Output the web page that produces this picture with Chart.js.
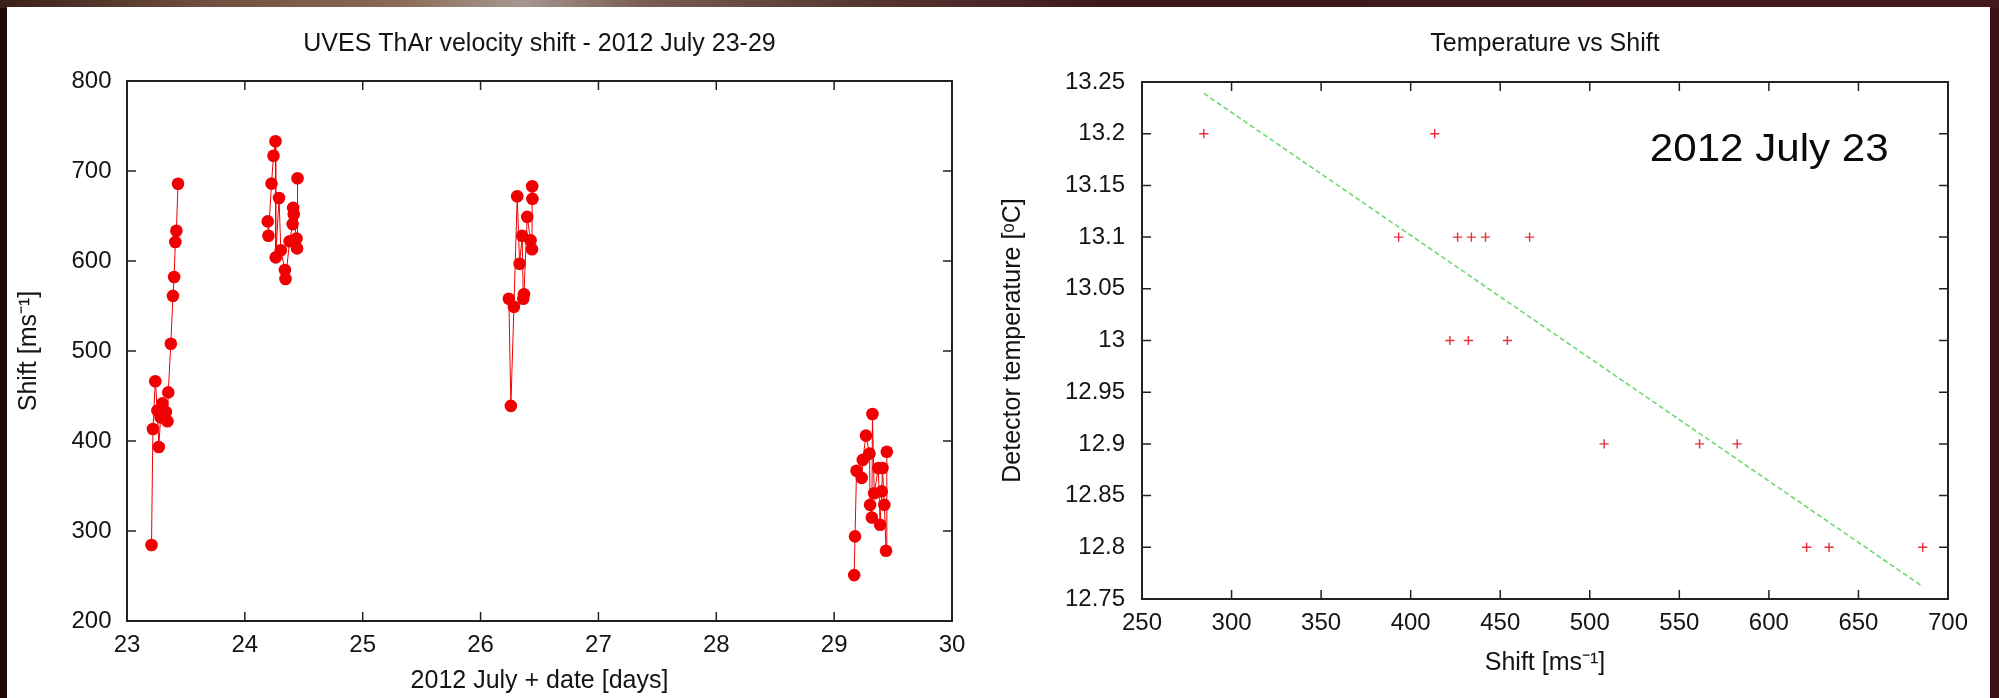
<!DOCTYPE html>
<html>
<head>
<meta charset="utf-8">
<title>UVES ThAr velocity shift</title>
<script src="https://cdn.jsdelivr.net/npm/chart.js@4"></script>
<style>
  html, body { margin: 0; padding: 0; }
  body {
    width: 1999px; height: 698px; position: relative; overflow: hidden;
    background: linear-gradient(90deg, #1f0b0a 0%, #2c0f0e 40%, #3a1315 100%);
  }
  #band {
    position: absolute; left: 0; top: 0; width: 1999px; height: 8px;
    background: linear-gradient(90deg, #3a2019 0%, #6e4e3e 10%, #8a6a56 20%, #a69890 26%, #7a5e54 32%, #5a3a34 42%, #3e1a1a 55%, #451a1c 100%);
  }
  #sheet { position: absolute; left: 7px; top: 7px; width: 1983px; height: 691px; background: #fff; }
  canvas { position: absolute; top: 0; }
  #shiftChart { left: 0; }
  #tempChart { left: 996px; }
</style>
</head>
<body>
<div id="band"></div>
<div id="sheet"></div>
<canvas id="shiftChart" width="996" height="698"></canvas>
<canvas id="tempChart" width="1003" height="698"></canvas>

<script>
// Night of July 23: time, shift and detector temperature for each exposure
const night23Days  = [23.208, 23.220, 23.240, 23.258, 23.270, 23.285, 23.300, 23.330, 23.343, 23.350, 23.372, 23.390, 23.400, 23.410, 23.419, 23.433];
const night23Shift = [284.5, 413.4, 466.4, 433.9, 393.3, 426.2, 441.8, 432.2, 421.9, 454.0, 508.0, 561.3, 582.3, 621.1, 633.6, 685.9];
const night23Temp  = [13.2, 13.2, 13.1, 13.1, 13.1, 13.1, 13.1, 13.0, 13.0, 13.0, 12.9, 12.9, 12.9, 12.8, 12.8, 12.8];

const night24Days  = [24.194, 24.200, 24.226, 24.243, 24.260, 24.262, 24.290, 24.305, 24.340, 24.345, 24.380, 24.405, 24.410, 24.415, 24.438, 24.443, 24.447];
const night24Shift = [644, 628, 686, 717, 733, 604, 670, 612, 590, 580, 622, 641, 659, 652, 625, 614, 692];

const night26Days  = [26.240, 26.257, 26.283, 26.311, 26.331, 26.353, 26.362, 26.368, 26.396, 26.424, 26.436, 26.438, 26.440];
const night26Shift = [558, 439, 549, 672, 597, 628, 558, 563, 649, 623, 613, 683, 669];

const night29Days  = [29.170, 29.177, 29.190, 29.234, 29.243, 29.270, 29.300, 29.305, 29.320, 29.325, 29.340, 29.375, 29.390, 29.404, 29.410, 29.426, 29.440, 29.447];
const night29Shift = [251, 294, 367, 359, 379, 406, 386, 329, 315, 430, 342, 370, 307, 344, 370, 329, 278, 388];

// linear fit of temperature against shift (end points)
const fitShift = [284.5, 685.9];
const fitTemp  = [13.239, 12.762];

const RED = 'rgb(240,0,0)';
const INK = '#141414';
const FONT = "'Liberation Sans', Arial, Helvetica, sans-serif";

Chart.defaults.font.family = FONT;
Chart.defaults.color = INK;
Chart.defaults.animation = false;
Chart.defaults.plugins.legend.display = false;
Chart.defaults.plugins.tooltip.enabled = false;

const toPoints = (xs, ys) => xs.map((x, i) => ({ x: x, y: ys[i] }));

// gnuplot style box: full border with inward ticks on all four sides
const frameTicks = {
  id: 'frameTicks',
  afterDraw(chart) {
    const { ctx, chartArea: a, scales: { x, y } } = chart;
    const len = 9;
    ctx.save();
    ctx.strokeStyle = '#222';
    ctx.lineWidth = 1.5;
    ctx.beginPath();
    x.ticks.forEach(t => {
      const px = x.getPixelForValue(t.value);
      ctx.moveTo(px, a.bottom); ctx.lineTo(px, a.bottom - len);
      ctx.moveTo(px, a.top); ctx.lineTo(px, a.top + len);
    });
    y.ticks.forEach(t => {
      const py = y.getPixelForValue(t.value);
      ctx.moveTo(a.left, py); ctx.lineTo(a.left + len, py);
      ctx.moveTo(a.right, py); ctx.lineTo(a.right - len, py);
    });
    ctx.stroke();
    ctx.lineWidth = 2;
    ctx.strokeRect(a.left, a.top, a.right - a.left, a.bottom - a.top);
    ctx.restore();
  }
};

// the date label written inside the temperature plot
const dateNote = {
  id: 'dateNote',
  afterDraw(chart) {
    const { ctx, scales: { x, y } } = chart;
    ctx.save();
    ctx.font = '39px ' + FONT;
    ctx.fillStyle = '#0a0a0a';
    ctx.textBaseline = 'middle';
    ctx.translate(x.getPixelForValue(533.5), y.getPixelForValue(13.184));
    ctx.scale(1.08, 1);
    ctx.fillText('2012 July 23', 0, 0);
    ctx.restore();
  }
};

const tickFont = { size: 24 };
const titleFont = { size: 25, weight: 'normal' };

function nightSet(days, shift) {
  return {
    data: toPoints(days, shift),
    showLine: true,
    borderColor: RED,
    borderWidth: 1,
    pointRadius: 6.3,
    pointBackgroundColor: RED,
    pointBorderWidth: 0
  };
}

new Chart(document.getElementById('shiftChart'), {
  type: 'scatter',
  data: {
    datasets: [
      nightSet(night23Days, night23Shift),
      nightSet(night24Days, night24Shift),
      nightSet(night26Days, night26Shift),
      nightSet(night29Days, night29Shift)
    ]
  },
  options: {
    responsive: false,
    layout: { padding: { left: 0, right: 44, top: 0, bottom: 0 } },
    plugins: {
      title: {
        display: true,
        text: 'UVES ThAr velocity shift - 2012 July 23-29',
        fullSize: false,
        font: titleFont,
        color: INK,
        padding: { top: 29.5, bottom: 21.5 }
      }
    },
    scales: {
      x: {
        type: 'linear', min: 23, max: 30,
        afterFit: s => { s.height = 77; },
        ticks: { stepSize: 1, padding: 10, font: tickFont, maxRotation: 0 },
        grid: { display: false, drawTicks: false },
        border: { display: false },
        title: { display: true, text: '2012 July + date [days]', font: titleFont, padding: { top: 0, bottom: 2 } }
      },
      y: {
        type: 'linear', min: 200, max: 800,
        afterFit: s => { s.width = 127; },
        ticks: { stepSize: 100, padding: 15.5, font: tickFont },
        grid: { display: false, drawTicks: false },
        border: { display: false },
        title: { display: true, text: 'Shift [ms\u207B\u00B9]', font: titleFont, padding: { top: 13.7, bottom: 0 } }
      }
    }
  },
  plugins: [frameTicks]
});

new Chart(document.getElementById('tempChart'), {
  type: 'scatter',
  data: {
    datasets: [
      {
        data: toPoints(night23Shift, night23Temp),
        pointStyle: 'cross',
        pointRadius: 4.6,
        borderColor: '#e8303a',
        pointBorderWidth: 1.4
      },
      {
        data: toPoints(fitShift, fitTemp),
        showLine: true,
        pointRadius: 0,
        borderColor: '#6ed86e',
        borderWidth: 1.6,
        borderDash: [5, 3]
      }
    ]
  },
  options: {
    responsive: false,
    layout: { padding: { left: 0, right: 51, top: 0, bottom: 0 } },
    plugins: {
      title: {
        display: true,
        text: 'Temperature vs Shift',
        fullSize: false,
        font: titleFont,
        color: INK,
        padding: { top: 29.5, bottom: 22.5 }
      }
    },
    scales: {
      x: {
        type: 'linear', min: 250, max: 700,
        afterFit: s => { s.height = 99; },
        ticks: { stepSize: 50, padding: 9.6, font: tickFont, maxRotation: 0 },
        grid: { display: false, drawTicks: false },
        border: { display: false },
        title: { display: true, text: 'Shift [ms\u207B\u00B9]', font: titleFont, padding: { top: 0, bottom: 20 } }
      },
      y: {
        type: 'linear', min: 12.75, max: 13.25,
        afterFit: s => { s.width = 146; },
        ticks: { stepSize: 0.05, padding: 17, font: tickFont, callback: v => String(+v.toFixed(2)) },
        grid: { display: false, drawTicks: false },
        border: { display: false },
        title: { display: true, text: 'Detector temperature [\u1D52C]', font: titleFont, padding: { top: 2, bottom: 0 } }
      }
    }
  },
  plugins: [frameTicks, dateNote]
});
</script>
</body>
</html>
